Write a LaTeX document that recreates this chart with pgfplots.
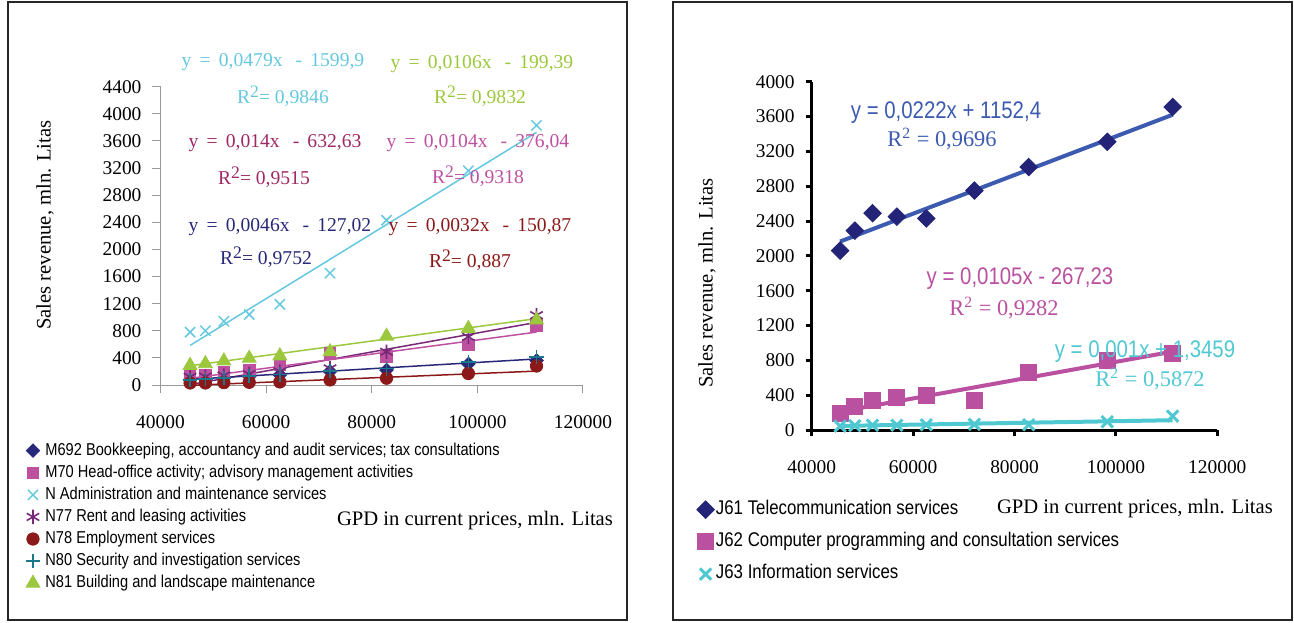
\documentclass[border=0pt]{standalone}
\usepackage{pgfplots}
\pgfplotsset{compat=1.18}
\usepackage{pgfplotstable}
\usepackage{fontspec}
\setmainfont{Liberation Serif}
\newfontfamily\legfont[FakeStretch=0.85]{Liberation Sans}
\definecolor{cNavy}{RGB}{40,40,120}
\definecolor{cPink}{RGB}{190,80,160}
\definecolor{cCyan}{RGB}{100,200,222}
\definecolor{cPurple}{RGB}{120,40,120}
\definecolor{cCrimson}{RGB}{160,40,100}
\definecolor{cRed}{RGB}{140,25,25}
\definecolor{cTeal}{RGB}{25,120,140}
\definecolor{cGreen}{RGB}{155,200,60}
\definecolor{rNavy}{RGB}{35,35,120}
\definecolor{rBlue}{RGB}{60,90,175}
\definecolor{rPink}{RGB}{185,80,160}
\definecolor{rCyan}{RGB}{80,200,210}
\pgfplotstableread{
x      m692 m70 nadm n77  n78 n80 n81
45600  80   145 780  120  30  70  290
48500  90   150 800  125  30  85  315
52000  105  195 940  140  35  100 355
56800  130  220 1040 160  40  135 395
62600  150  295 1190 200  45  155 430
72100  200  470 1650 245  75  210 490
82800  220  420 2430 490  100 245 720
98300  310  590 3160 710  170 340 835
111200 360  880 3830 1030 280 415 960
}\leftdata
\pgfplotstableread{
x      j61  j62 j63
45600  2060 190 45
48500  2290 270 50
52000  2490 340 55
56800  2450 370 55
62600  2430 400 60
72100  2750 335 65
82800  3020 665 60
98300  3310 805 95
111200 3710 885 160
}\rightdata
\newcommand\ticfont{\fontsize{9.7}{11}\selectfont}
\newcommand\labfont{\fontsize{10.3}{12}\selectfont}
\newcommand\eqfont{\fontsize{9.8}{11}\selectfont}
\newcommand\rsq{R\raisebox{0.72ex}{\fontsize{8.8}{9}\selectfont 2}}
\begin{document}
\begin{tikzpicture}[x=0.5pt,y=-0.5pt]
\useasboundingbox (0,0) rectangle (1294,622);
\draw[line width=0.7pt, black!85] (8,2) rectangle (627,620);
\draw[line width=0.7pt, black!85] (673,2) rectangle (1292,620);
% ---------------- left chart
\begin{axis}[
  at={(80.25pt,-192.5pt)}, anchor=south west,
  scale only axis, width=211.25pt, height=149.15pt,
  xmin=40000, xmax=120000, ymin=0, ymax=4400,
  xtick={40000,60000,80000,100000,120000},
  ytick={0,400,...,4400},
  scaled x ticks=false, scaled y ticks=false,
  axis lines*=left,
  axis line style={black!40, line width=0.5pt},
  tick style={black!40, line width=0.5pt},
  tick align=outside, major tick length=4pt,
  /pgf/number format/fixed,
  /pgf/number format/precision=0,
  /pgf/number format/1000 sep={},
  /pgf/number format/assume math mode=true,
  ticklabel style={font=\ticfont},
  xticklabel style={yshift=-8pt},
  yticklabel style={xshift=-2pt},
  xlabel={GPD in current prices, mln. Litas},
  ylabel={Sales revenue, mln. Litas},
  label style={font=\labfont},
  xlabel style={at={(axis description cs:0.7444,-0.4559)}, anchor=center},
  ylabel style={at={(axis description cs:-0.273,0.536)}, anchor=center},
  clip=false,
  legend style={draw=none, fill=none, at={(axis description cs:-0.334,-0.172)}, anchor=north west,
    font=\legfont\fontsize{8.6}{9.5}\selectfont, row sep=1.15pt,
    /tikz/every odd column/.append style={column sep=1.8pt},
    nodes={inner sep=0.8pt, text height=6.4pt, text depth=1.9pt}},
  legend cell align=left,
  legend image code/.code={\draw[mark repeat=2,mark phase=2,#1] plot coordinates {(0pt,0pt) (4pt,0pt) (8pt,0pt)};},
]
\addplot[only marks, mark=square*, mark size=2.4pt, mark options={rotate=45, fill=cNavy, draw=cNavy}] table[x=x,y=m692]{\leftdata};
\addlegendentry{M692 Bookkeeping, accountancy and audit services; tax consultations}
\addplot[only marks, mark=square*, mark size=2.9pt, mark options={fill=cPink, draw=cPink}] table[x=x,y=m70]{\leftdata};
\addlegendentry{M70 Head-office activity; advisory management activities}
\addplot[only marks, mark=x, mark size=3.6pt, mark options={draw=cCyan, line width=0.75pt}] table[x=x,y=nadm]{\leftdata};
\addlegendentry{N Administration and maintenance services}
\addplot[only marks, mark=asterisk, mark size=3.6pt, mark options={draw=cPurple, line width=0.8pt}] table[x=x,y=n77]{\leftdata};
\addlegendentry{N77 Rent and leasing activities}
\addplot[only marks, mark=*, mark size=3.1pt, mark options={fill=cRed, draw=cRed}] table[x=x,y=n78]{\leftdata};
\addlegendentry{N78 Employment services}
\addplot[only marks, mark=+, mark size=3.6pt, mark options={draw=cTeal, line width=0.8pt}] table[x=x,y=n80]{\leftdata};
\addlegendentry{N80 Security and investigation services}
\addplot[only marks, mark=triangle*, mark size=4pt, mark options={fill=cGreen, draw=cGreen}] table[x=x,y=n81]{\leftdata};
\addlegendentry{N81 Building and landscape maintenance}
% trend lines
\addplot[forget plot, cCyan, line width=0.75pt] coordinates {(45600,584.34) (111200,3726.58)};
\addplot[forget plot, cGreen, line width=0.75pt] coordinates {(45600,283.97) (111200,979.33)};
\addplot[forget plot, cPurple, line width=0.75pt] coordinates {(45600,5.77) (111200,924.17)};
\addplot[forget plot, cPink, line width=0.75pt] coordinates {(45600,98.2) (111200,780.44)};
\addplot[forget plot, cNavy, line width=0.75pt] coordinates {(45600,82.74) (111200,384.5)};
\addplot[forget plot, cRed, line width=0.75pt] coordinates {(45600,-4.95) (111200,204.97)};
\end{axis}
% ---------------- right chart
\begin{axis}[
  at={(405.85pt,-215pt)}, anchor=south west,
  scale only axis, width=202.8pt, height=174.15pt,
  xmin=40000, xmax=120000, ymin=0, ymax=4000,
  xtick={40000,60000,80000,100000,120000},
  ytick={0,400,...,4000},
  scaled x ticks=false, scaled y ticks=false,
  axis lines*=left,
  axis line style={black, line width=1.5pt},
  tick style={black, line width=1.5pt},
  tick align=outside, major tick length=3pt,
  /pgf/number format/fixed,
  /pgf/number format/precision=0,
  /pgf/number format/1000 sep={},
  /pgf/number format/assume math mode=true,
  ticklabel style={font=\ticfont},
  xticklabel style={yshift=-9pt},
  yticklabel style={xshift=-2pt},
  xlabel={GPD in current prices, mln. Litas},
  ylabel={Sales revenue, mln. Litas},
  label style={font=\labfont},
  xlabel style={at={(axis description cs:0.797,-0.2268)}, anchor=center},
  ylabel style={at={(axis description cs:-0.258,0.422)}, anchor=center},
  clip=false,
  legend style={draw=none, fill=none, at={(axis description cs:-0.299,-0.185)}, anchor=north west,
    font=\legfont\fontsize{9.9}{11}\selectfont, row sep=5.3pt,
    nodes={inner sep=0.8pt, text height=7pt, text depth=2.2pt}},
  legend cell align=left,
  legend image code/.code={\draw[mark repeat=2,mark phase=2,#1] plot coordinates {(0pt,0pt) (4pt,0pt) (8pt,0pt)};},
]
\addplot[only marks, mark=square*, mark size=3.1pt, mark options={rotate=45, fill=rNavy, draw=rNavy}] table[x=x,y=j61]{\rightdata};
\addlegendentry{J61 Telecommunication services}
\addplot[only marks, mark=square*, mark size=4pt, mark options={fill=rPink, draw=rPink}] table[x=x,y=j62]{\rightdata};
\addlegendentry{J62 Computer programming and consultation services}
\addplot[only marks, mark=x, mark size=4pt, mark options={draw=rCyan, line width=1.5pt}] table[x=x,y=j63]{\rightdata};
\addlegendentry{J63 Information services}
\addplot[forget plot, rBlue, line width=2pt] coordinates {(45600,2164.7) (111200,3621.04)};
\addplot[forget plot, rPink, line width=2pt] coordinates {(45600,211.57) (111200,900.37)};
\addplot[forget plot, rCyan, line width=2pt] coordinates {(45600,46.95) (111200,112.55)};
\end{axis}
% ---------------- equations, left
\begin{scope}[every node/.style={font=\eqfont, inner sep=0pt}]
\node[text=cCyan] at (273,62) {y \,=\, 0,0479x \ \,-\, 1599,9};
\node[text=cCyan] at (283,96) {\rsq= 0,9846};
\node[text=cGreen] at (482,64) {y \,=\, 0,0106x \ \,-\, 199,39};
\node[text=cGreen] at (480,96) {\rsq= 0,9832};
\node[text=cCrimson] at (275,143) {y \,=\, 0,014x \ \,-\, 632,63};
\node[text=cCrimson] at (264,177) {\rsq= 0,9515};
\node[text=cPink] at (478,143) {y \,=\, 0,0104x \ \,-\, 376,04};
\node[text=cPink] at (478,176) {\rsq= 0,9318};
\node[text=cNavy] at (280,227) {y \,=\, 0,0046x \ \,-\, 127,02};
\node[text=cNavy] at (266,257) {\rsq= 0,9752};
\node[text=cRed] at (480,227) {y \,=\, 0,0032x \ \,-\, 150,87};
\node[text=cRed] at (470,260) {\rsq= 0,887};
% right
\node[text=rBlue, font=\legfont\fontsize{12}{13}\selectfont] at (946,113) {y = 0,0222x + 1152,4};
\node[text=rBlue, font=\fontsize{11.2}{12}\selectfont] at (942,139) {R\textsuperscript{2} = 0,9696};
\node[text=rPink, font=\legfont\fontsize{12}{13}\selectfont] at (1020,279) {y = 0,0105x - 267,23};
\node[text=rPink, font=\fontsize{11.2}{12}\selectfont] at (1004,308) {R\textsuperscript{2} = 0,9282};
\node[text=rCyan, font=\legfont\fontsize{12}{13}\selectfont] at (1145,352) {y = 0,001x + 1,3459};
\node[text=rCyan, font=\fontsize{11.2}{12}\selectfont] at (1150,379) {R\textsuperscript{2} = 0,5872};
\end{scope}
\end{tikzpicture}
\end{document}
